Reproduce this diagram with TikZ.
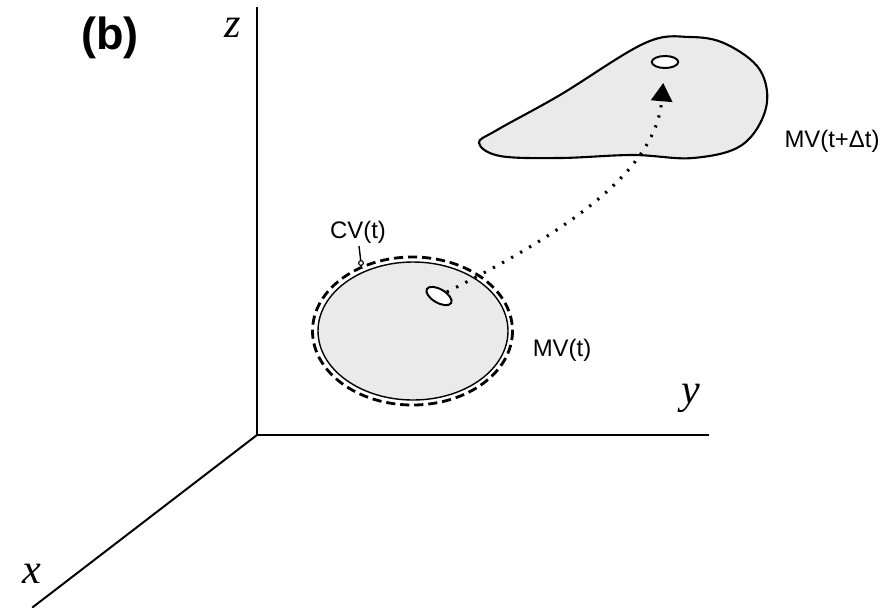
\documentclass[tikz,border=0pt]{standalone}
\usepackage{fontspec}
\setmainfont{Liberation Serif}
\setsansfont{Liberation Sans}
\usepackage{tikz}
\usetikzlibrary{arrows.meta, shapes.geometric, positioning}
\definecolor{volgray}{RGB}{234,234,234}

\begin{document}
\begin{tikzpicture}[
  x=0.025cm, y=-0.025cm,
  axis/.style    = {line width=1.4pt, line cap=rect},
  axlabel/.style = {font=\fontsize{30}{32}\selectfont\itshape, inner sep=0pt},
  panel/.style   = {font=\fontsize{32}{36}\selectfont\sffamily\bfseries, inner sep=0pt},
  vlabel/.style  = {font=\fontsize{17}{19}\selectfont\sffamily, inner sep=0pt},
  volume/.style  = {fill=volgray, draw=black},
  hole/.style    = {ellipse, draw, fill=white, line width=1.4pt, inner sep=0pt},
  cvline/.style  = {dash pattern=on 6.5pt off 3.5pt, line width=2pt},
  path/.style    = {line width=2.2pt, dash pattern=on 1.6pt off 5.8pt,
                    -{Triangle[length=13pt, width=15pt]}, shorten >=10pt},
]
\useasboundingbox (0,0) rectangle (894,607);

%% --- Axes ---
\coordinate (O)  at (257,435);
\coordinate (zt) at (257,8);
\coordinate (yt) at (708,435);
\coordinate (xt) at (33,607);
\draw[axis] (xt) -- (O) -- (zt);
\draw[axis] (O) -- (yt);
\node[axlabel] (zlab) at (233,28)  {z};
\node[axlabel] (ylab) at (691,398) {y};
\node[axlabel] (xlab) at (32,574)  {x};
\node[panel]   (b)    at (110,38)  {(b)};

%% --- Material volume at t ---
\draw[volume, line width=1pt] (413,331) ellipse [x radius=95, y radius=69];
\draw[cvline] (412.5,331) ellipse [x radius=100, y radius=74];
\node[hole, minimum width=0.7cm, minimum height=0.34cm, rotate=-30] (h1) at (439,296) {};
\node[vlabel] (mvt) at (562,350) {MV(t)};

%% --- Control volume label ---
\node[vlabel] (cvt) at (358,232) {CV(t)};
\node[circle, draw, fill=white, line width=0.8pt, inner sep=0pt,
      minimum size=0.12cm] (cvpt) at (361,263) {};
\draw[line width=1pt] (359,246) -- (cvpt);

%% --- Material volume at t+dt ---
\draw[volume, line width=1.5pt] plot[smooth cycle, tension=0.6] coordinates {
  (479,143) (500,156) (560,158) (633,155) (693,158) (742,145) (766,108)
  (760,70) (726,44) (690,37) (645,43) (560,95) (497,130)};
\node[hole, minimum width=0.66cm, minimum height=0.3cm] (h2) at (665,62) {};
\node[vlabel] (mvdt) at (832,141) {MV(t+Δt)};

%% --- Path of the element ---
\draw[path] (h1) .. controls (540,245) and (655,180) .. (h2);

\end{tikzpicture}
\end{document}
